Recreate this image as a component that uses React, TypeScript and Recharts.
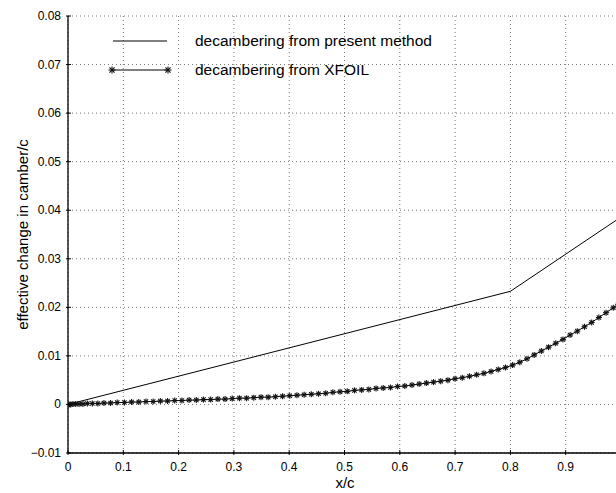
import { ComposedChart, Line, XAxis, YAxis, CartesianGrid } from 'recharts'

const X_TICKS = [0, 0.1, 0.2, 0.3, 0.4, 0.5, 0.6, 0.7, 0.8, 0.9, 1]
const Y_TICKS = [-0.01, 0, 0.01, 0.02, 0.03, 0.04, 0.05, 0.06, 0.07, 0.08]

const PRESENT_LABEL = 'decambering from present method'
const XFOIL_LABEL = 'decambering from XFOIL'

// present method: straight pieces with a kink at 0.8
const presentX = [0, 0.8, 1.0]
const presentY = [0, 0.0233, 0.0386]

// XFOIL points (clustered near the leading edge)
const xfoilX = [
  0, 0.002, 0.005, 0.009, 0.014, 0.02, 0.027, 0.035, 0.044, 0.054, 0.065, 0.077, 0.089, 0.102,
  0.115, 0.128, 0.141, 0.154, 0.167, 0.18, 0.193, 0.206, 0.219, 0.232, 0.245, 0.258, 0.271,
  0.284, 0.297, 0.31, 0.323, 0.336, 0.349, 0.362, 0.375, 0.388, 0.401, 0.414, 0.427, 0.44,
  0.453, 0.466, 0.479, 0.492, 0.505, 0.518, 0.531, 0.544, 0.557, 0.57, 0.583, 0.596, 0.609,
  0.622, 0.635, 0.648, 0.661, 0.674, 0.687, 0.7, 0.713, 0.726, 0.739, 0.752, 0.765, 0.778,
  0.791, 0.804, 0.817, 0.83, 0.843, 0.856, 0.869, 0.882, 0.895, 0.908, 0.921, 0.934, 0.947,
  0.96, 0.973, 0.986, 0.995, 1.0,
]
const xfoilY = [
  0, 0, 0, 0.0001, 0.0001, 0.0001, 0.0001, 0.0002, 0.0002, 0.0002, 0.0003, 0.0003, 0.0004,
  0.0004, 0.0005, 0.0005, 0.0006, 0.0006, 0.0007, 0.0007, 0.0008, 0.0008, 0.0009, 0.0009,
  0.001, 0.001, 0.0011, 0.0011, 0.0012, 0.0013, 0.0013, 0.0014, 0.0015, 0.0015, 0.0016,
  0.0017, 0.0018, 0.0019, 0.002, 0.0021, 0.0022, 0.0023, 0.0025, 0.0026, 0.0027, 0.0029,
  0.003, 0.0031, 0.0033, 0.0034, 0.0035, 0.0037, 0.0038, 0.004, 0.0042, 0.0044, 0.0046,
  0.0048, 0.005, 0.0053, 0.0055, 0.0058, 0.0061, 0.0064, 0.0068, 0.0072, 0.0076, 0.0081,
  0.0087, 0.0094, 0.0102, 0.011, 0.0118, 0.0126, 0.0134, 0.0143, 0.0151, 0.016, 0.0169,
  0.0179, 0.0189, 0.0199, 0.0206, 0.021,
]

const presentData = presentX.map((x, i) => ({ x, y: presentY[i] }))
const xfoilData = xfoilX.map((x, i) => ({ x, y: xfoilY[i] }))

const FONT = 'Liberation Sans, Arial, Helvetica, sans-serif'

function fmtX(v: number) {
  return v === 0 ? '0' : v.toFixed(1)
}

function fmtY(v: number) {
  if (Math.abs(v) < 1e-9) return '0'
  if (v < 0) return '\u2212' + Math.abs(v).toFixed(2)
  return v.toFixed(2)
}

function Star({ cx, cy, r = 3.5 }: { cx?: number; cy?: number; r?: number }) {
  if (cx == null || cy == null) return null
  const d = r * 0.72
  return (
    <g stroke='#111' strokeWidth={1.1}>
      <line x1={cx - r} y1={cy} x2={cx + r} y2={cy} />
      <line x1={cx} y1={cy - r} x2={cx} y2={cy + r} />
      <line x1={cx - d} y1={cy - d} x2={cx + d} y2={cy + d} />
      <line x1={cx - d} y1={cy + d} x2={cx + d} y2={cy - d} />
    </g>
  )
}

function BottomTick(props: any) {
  const { x, y, payload } = props
  return (
    <g>
      <line x1={x} y1={y} x2={x} y2={y - 5} stroke='#000' />
      {payload.value < 1 && (
        <text x={x} y={y + 16} textAnchor='middle' fontSize={12} fontFamily={FONT} fill='#000'>
          {fmtX(payload.value)}
        </text>
      )}
    </g>
  )
}

function TopTick(props: any) {
  const { x, y } = props
  return <line x1={x} y1={y} x2={x} y2={y + 5} stroke='#000' />
}

function LeftTick(props: any) {
  const { x, y, payload } = props
  return (
    <g>
      <line x1={x} y1={y} x2={x + 5} y2={y} stroke='#000' />
      <text x={x - 5} y={y + 4} textAnchor='end' fontSize={12} fontFamily={FONT} fill='#000'>
        {fmtY(payload.value)}
      </text>
    </g>
  )
}

function YLabel(props: any) {
  const vb = props.viewBox ?? {}
  const cy = (vb.y ?? 0) + (vb.height ?? 0) / 2
  return (
    <text
      x={28}
      y={cy}
      transform={`rotate(-90 28 ${cy})`}
      textAnchor='middle'
      fontSize={15}
      fontFamily={FONT}
      fill='#000'>
      effective change in camber/c
    </text>
  )
}

function XLabel(props: any) {
  const vb = props.viewBox ?? {}
  return (
    <text x={345} y={(vb.y ?? 0) + 35} textAnchor='middle' fontSize={15} fontFamily={FONT} fill='#000'>
      x/c
    </text>
  )
}

function LegendBox() {
  return (
    <svg
      width={616}
      height={100}
      style={{ position: 'absolute', left: 0, top: 0, display: 'block', pointerEvents: 'none' }}>
      <line x1={113} y1={41} x2={167} y2={41} stroke='#000' strokeWidth={1} />
      <text x={195} y={46} fontSize={15.5} fontFamily={FONT} fill='#000'>
        {PRESENT_LABEL}
      </text>
      <line x1={112} y1={70} x2={168} y2={70} stroke='#000' strokeWidth={1} />
      <Star cx={112} cy={70} />
      <Star cx={168} cy={70} />
      <text x={195} y={75} fontSize={15.5} fontFamily={FONT} fill='#000'>
        {XFOIL_LABEL}
      </text>
    </svg>
  )
}

export default function App() {
  return (
    <div
      style={{
        position: 'absolute',
        left: 0,
        top: 0,
        width: 616,
        height: 493,
        overflow: 'hidden',
        background: '#fff',
      }}>
      <ComposedChart width={640} height={493} margin={{ top: 16, right: 19, left: 0, bottom: 0 }}>
        <CartesianGrid stroke='#777' strokeDasharray='1 3' strokeWidth={1} />
        <XAxis
          dataKey='x'
          type='number'
          domain={[0, 1]}
          ticks={X_TICKS}
          height={40}
          tickSize={0}
          tickLine={false}
          axisLine={{ stroke: '#000', strokeWidth: 1.3 }}
          tick={<BottomTick />}
          label={<XLabel />}
          allowDataOverflow
        />
        <XAxis
          xAxisId='top'
          orientation='top'
          dataKey='x'
          type='number'
          domain={[0, 1]}
          ticks={X_TICKS}
          height={0}
          tickSize={0}
          tickLine={false}
          axisLine={{ stroke: '#000', strokeWidth: 1.3 }}
          tick={<TopTick />}
        />
        <YAxis
          dataKey='y'
          type='number'
          domain={[-0.01, 0.08]}
          ticks={Y_TICKS}
          width={68}
          tickSize={0}
          tickLine={false}
          axisLine={{ stroke: '#000', strokeWidth: 1.3 }}
          tick={<LeftTick />}
          label={<YLabel />}
          allowDataOverflow
        />
        <Line
          data={presentData}
          dataKey='y'
          name={PRESENT_LABEL}
          type='linear'
          stroke='#000'
          strokeWidth={1}
          dot={false}
          activeDot={false}
          isAnimationActive={false}
        />
        <Line
          data={xfoilData}
          dataKey='y'
          name={XFOIL_LABEL}
          type='linear'
          stroke='#000'
          strokeWidth={1}
          dot={<Star />}
          activeDot={false}
          isAnimationActive={false}
        />
      </ComposedChart>
      <LegendBox />
    </div>
  )
}
